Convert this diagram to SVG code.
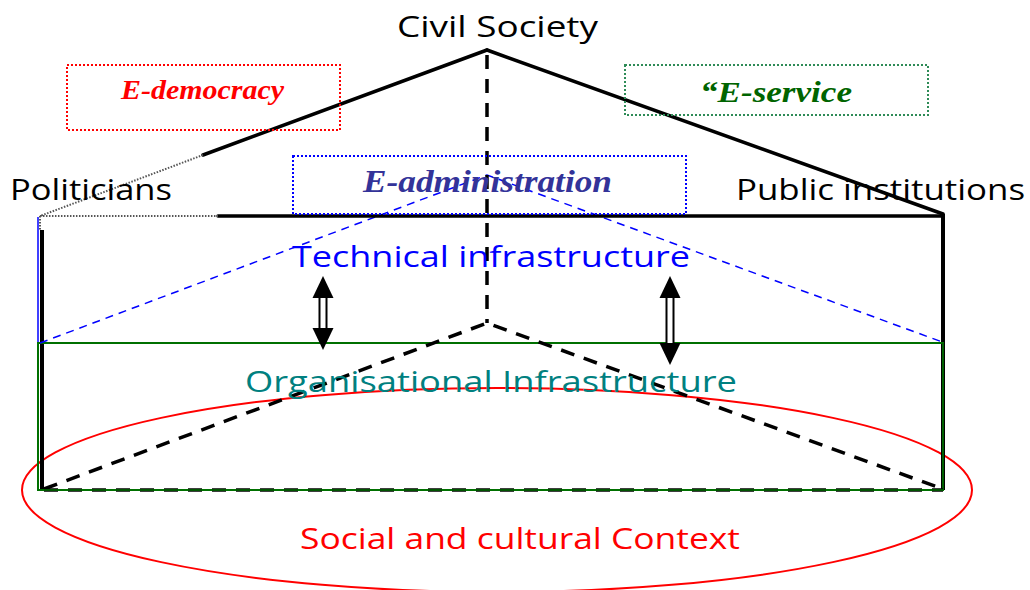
<svg xmlns="http://www.w3.org/2000/svg" width="1030" height="590" viewBox="0 0 1030 590">
  <style>
    .hand { font-family: "Open Sans", "DejaVu Sans", sans-serif; font-size: 30px; }
    .serif { font-family: "Liberation Serif", serif; font-weight: bold; font-style: italic; }
    .roof { stroke: #000; stroke-width: 3.5; fill: none; stroke-linecap: round; }
    .dash { stroke: #000; stroke-width: 3.5; fill: none; stroke-dasharray: 14 10; }
    .bdash { stroke: #0000ff; stroke-width: 1.5; fill: none; stroke-dasharray: 8 6; }
    .dots { fill: none; stroke-width: 2; stroke-dasharray: 2 2; }
    .faint { stroke: #555; stroke-width: 2; fill: none; stroke-dasharray: 1.5 1.5; }
    .shaft { fill: #fff; stroke: #000; stroke-width: 2; }
  </style>
  <defs>
    <!-- solid arrowhead, tip at origin, pointing up -->
    <polygon id="head" points="0,0 -10.5,22 10.5,22" fill="#000"/>
  </defs>
  <rect width="1030" height="590" fill="#fff"/>

  <!-- context ellipse -->
  <g id="context">
    <ellipse cx="497" cy="490" rx="475" ry="102" fill="none" stroke="#ff0000" stroke-width="2"/>
  </g>

  <g id="connectors">
    <!-- layer frames -->
    <line x1="38" y1="217" x2="38" y2="343" stroke="#0000ff" stroke-width="1.5"/>
    <line x1="42" y1="230" x2="42" y2="490" stroke="#000" stroke-width="4"/>
    <line x1="943" y1="214" x2="943" y2="490" stroke="#000" stroke-width="4"/>
    <rect x="38" y="343" width="905" height="147" fill="none" stroke="#007000" stroke-width="2"/>
    <line x1="943" y1="343" x2="943" y2="490" stroke="#006000" stroke-width="2"/>

    <!-- technical layer pyramid -->
    <polyline class="bdash" points="40,343 487,175 945,343"/>

    <!-- roof -->
    <line class="roof" x1="487" y1="50" x2="203" y2="155"/>
    <line class="roof" x1="487" y1="50" x2="943" y2="214"/>
    <line class="roof" x1="218" y1="216" x2="943" y2="216"/>
    <polyline class="faint" points="203,155 40,216 218,216"/>
    <line class="faint" x1="40" y1="216" x2="40" y2="230"/>

    <!-- hidden edges -->
    <line class="dash" x1="487" y1="55" x2="487" y2="323"/>
    <polyline class="dash" points="44,489 487,323 940,488"/>
    <line class="dash" x1="44" y1="490" x2="943" y2="490"/>
    <line x1="38" y1="490" x2="943" y2="490" stroke="#007000" stroke-width="1.5"/>

    <!-- layer links -->
    <g id="link-left">
      <rect class="shaft" x="319.5" y="297" width="7" height="32"/>
      <use href="#head" transform="translate(323,276)"/>
      <use href="#head" transform="translate(323,350) scale(1,-1)"/>
    </g>
    <g id="link-right">
      <rect class="shaft" x="666.5" y="297" width="7" height="47"/>
      <use href="#head" transform="translate(670,276)"/>
      <use href="#head" transform="translate(670,365) scale(1,-1)"/>
    </g>
  </g>

  <g id="civil-society">
    <text class="hand" x="397" y="37" textLength="201" lengthAdjust="spacingAndGlyphs">Civil Society</text>
  </g>
  <g id="politicians">
    <text class="hand" x="10" y="200" textLength="162" lengthAdjust="spacingAndGlyphs">Politicians</text>
  </g>
  <g id="public-institutions">
    <text class="hand" x="736" y="200" textLength="289" lengthAdjust="spacingAndGlyphs">Public institutions</text>
  </g>

  <g id="e-democracy">
    <rect class="dots" x="67" y="65" width="273" height="65" stroke="#ff0000"/>
    <text class="serif" x="121" y="99" font-size="27" fill="#ff0000" textLength="163" lengthAdjust="spacingAndGlyphs">E-democracy</text>
  </g>
  <g id="e-service">
    <rect class="dots" x="625" y="65" width="303" height="50" stroke="#2e8b57"/>
    <text class="serif" x="700" y="102" font-size="30" fill="#006400" textLength="152" lengthAdjust="spacingAndGlyphs">“E-service</text>
  </g>
  <g id="e-administration">
    <rect class="dots" x="293" y="156" width="393" height="58" stroke="#0000ff"/>
    <text class="serif" x="363" y="192" font-size="31" fill="#333399" textLength="249" lengthAdjust="spacingAndGlyphs">E-administration</text>
  </g>

  <g id="technical">
    <text class="hand" x="292" y="267" fill="#0000ff" textLength="398" lengthAdjust="spacingAndGlyphs">Technical infrastructure</text>
  </g>
  <g id="organisational">
    <text class="hand" x="245" y="392" fill="#008080" textLength="492" lengthAdjust="spacingAndGlyphs">Organisational Infrastructure</text>
  </g>
  <g id="social">
    <text class="hand" x="300" y="549" fill="#ff0000" textLength="440" lengthAdjust="spacingAndGlyphs">Social and cultural Context</text>
  </g>
</svg>
